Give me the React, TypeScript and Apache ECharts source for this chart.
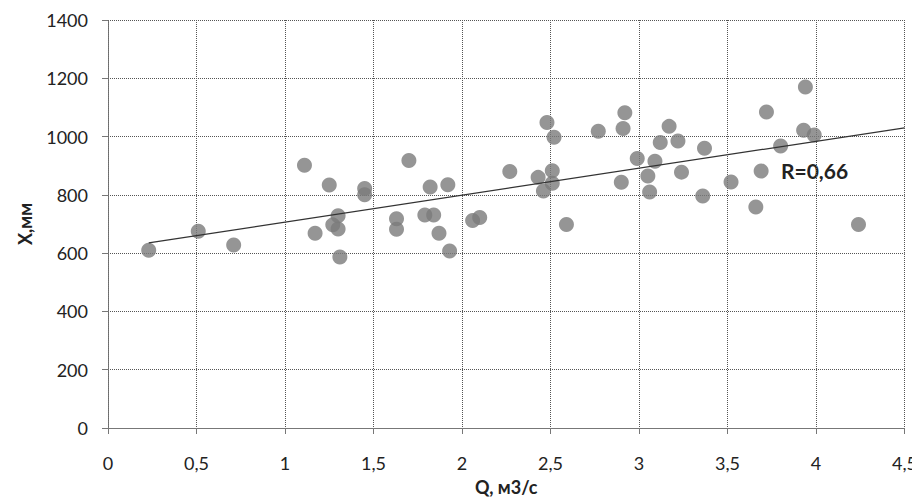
import React, { useEffect, useRef } from "react";
import * as echarts from "echarts";

const qValues = [
  0.23, 0.51, 0.71, 1.11, 1.17, 1.25, 1.27, 1.3, 1.3, 1.31, 1.45, 1.45, 1.63, 1.63,
  1.7, 1.79, 1.82, 1.84, 1.87, 1.92, 1.93, 2.06, 2.1, 2.27, 2.43, 2.46, 2.48, 2.51,
  2.51, 2.52, 2.59, 2.77, 2.9, 2.91, 2.92, 2.99, 3.05, 3.06, 3.09, 3.12, 3.17, 3.22,
  3.24, 3.36, 3.37, 3.52, 3.66, 3.69, 3.72, 3.8, 3.93, 3.94, 3.99, 4.24,
];
const xValues = [
  610, 675, 628, 902, 668, 834, 697, 728, 683, 587, 822, 800, 718, 682,
  918, 731, 827, 731, 668, 835, 607, 712, 722, 880, 860, 813, 1048, 883,
  840, 998, 698, 1018, 843, 1028, 1082, 925, 865, 810, 915, 980, 1035, 985,
  878, 796, 960, 844, 758, 882, 1084, 968, 1022, 1170, 1005, 698,
];
const trendQ = [0.23, 4.5];
const trendX = [635, 1030];
const rLabel = "R=0,66";
const xAxisName = "Q, м3/с";
const yAxisName = "X,мм";

export default function App() {
  const ref = useRef<HTMLDivElement>(null);
  useEffect(() => {
    if (!ref.current) return;
    const chart = echarts.init(ref.current, undefined, { renderer: "svg" });
    const font = "Lato, 'Open Sans', sans-serif";
    const gridLine = { show: true, lineStyle: { color: "#555", width: 1, type: [1, 1] as any } };
    chart.setOption({
      animation: false,
      backgroundColor: "#fff",
      grid: { left: 93, top: 12, width: 808, height: 408 },
      xAxis: {
        type: "value",
        min: 0,
        max: 4.5,
        interval: 0.5,
        name: xAxisName,
        nameLocation: "middle",
        nameGap: 50,
        nameTextStyle: { fontFamily: font, fontSize: 18, fontWeight: "bold", color: "#222" },
        axisLine: { show: true, lineStyle: { color: "#777", width: 1 } },
        axisTick: { show: true, length: 6, lineStyle: { color: "#777" } },
        axisLabel: {
          fontFamily: font,
          fontSize: 18,
          color: "#222",
          margin: 26,
          formatter: (v: number) => String(v).replace(".", ","),
        },
        splitLine: gridLine,
      },
      yAxis: {
        type: "value",
        min: 0,
        max: 1400,
        interval: 200,
        name: yAxisName,
        nameLocation: "middle",
        nameRotate: 90,
        nameGap: 74,
        nameTextStyle: { fontFamily: font, fontSize: 18, fontWeight: "bold", color: "#222" },
        axisLine: { show: true, lineStyle: { color: "#777", width: 1, type: [1, 1] as any } },
        axisTick: { show: true, length: 6, lineStyle: { color: "#777" } },
        axisLabel: {
          fontFamily: font,
          fontSize: 18,
          color: "#222",
          margin: 20,
          formatter: (v: number) => String(v),
        },
        splitLine: gridLine,
      },
      series: [
        {
          type: "line",
          data: trendQ.map((q, i) => [q, trendX[i]]),
          showSymbol: false,
          symbol: "none",
          lineStyle: { color: "#333", width: 1.2 },
          silent: true,
          z: 3,
        },
        {
          type: "scatter",
          data: qValues.map((q, i) => [q, xValues[i]]),
          symbolSize: 15,
          itemStyle: { color: "#7a7a7a" },
          z: 2,
        },
      ],
      graphic: [
        {
          type: "text",
          left: 773,
          top: 152,
          style: { text: rLabel, fontFamily: font, fontSize: 21, fontWeight: "bold", fill: "#222" },
        },
      ],
    });
    return () => chart.dispose();
  }, []);
  return <div ref={ref} style={{ width: 912, height: 493 }} />;
}
